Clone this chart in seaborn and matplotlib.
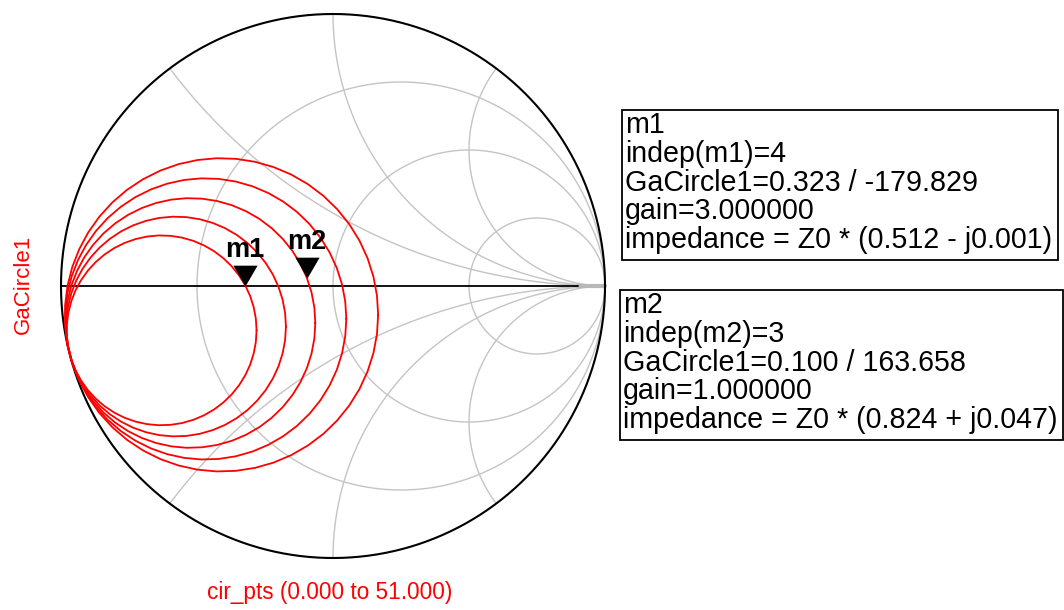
import numpy as np
import pandas as pd
import matplotlib
matplotlib.use("Agg")
import matplotlib.pyplot as plt
from matplotlib.patches import Rectangle
import seaborn as sns

# Available-gain circles (reflection-coefficient plane)
gains = [3, 2, 1, 0, -1]
center_re = [-0.630, -0.577, -0.524, -0.468, -0.410]
center_im = [-0.163, -0.149, -0.136, -0.121, -0.106]
radius = [0.349, 0.404, 0.459, 0.517, 0.576]
n_cir_pts = 51

# Smith chart grid values
r_grid = [1 / 3, 1.0, 3.0]
x_grid = [0.5, 1.0, 2.0]

# Markers
marker_names = ["m1", "m2"]
marker_index = [4, 3]
marker_mag = [0.323, 0.100]
marker_ang = [-179.829, 163.658]
marker_gain = [3.0, 1.0]
marker_z_re = [0.512, 0.824]
marker_z_im = [-0.001, 0.047]

W, H = 1064, 610
DPI = 100
sns.set_theme(style="white")
plt.rcParams["font.family"] = ["Liberation Sans", "DejaVu Sans"]

fig = plt.figure(figsize=(W / DPI, H / DPI), dpi=DPI)
fig.patch.set_facecolor("white")

# chart centre (333, 286) px, unit radius 272 px
cx, cy, R = 333, 286, 272
lim = 1.02
ax = fig.add_axes([(cx - lim * R) / W, (H - cy - lim * R) / H,
                   2 * lim * R / W, 2 * lim * R / H])
ax.set_xlim(-lim, lim)
ax.set_ylim(-lim, lim)
ax.set_aspect("equal")
ax.axis("off")

grid_col = "#c4c4c4"


def gamma(z):
    return (z - 1) / (z + 1)


# constant-resistance circles
t = np.linspace(-np.pi / 2 + 1e-4, np.pi / 2 - 1e-4, 600)
for r in r_grid:
    g = gamma(r + 1j * np.tan(t))
    g = np.concatenate([[1 + 0j], g, [1 + 0j]])
    ax.plot(g.real, g.imag, color=grid_col, lw=1.0, zorder=1)

# constant-reactance arcs
s = np.linspace(0, np.pi / 2 - 1e-4, 600)
for x in x_grid:
    for sign in (1, -1):
        g = gamma(np.tan(s) + 1j * sign * x)
        g = np.concatenate([g, [1 + 0j]])
        ax.plot(g.real, g.imag, color=grid_col, lw=1.0, zorder=1)

# real axis and outer boundary
ax.plot([-1, 0.90], [0, 0], color="black", lw=1.3, zorder=2)
ax.plot([0.90, 1.0], [0, 0], color="#b8b8b8", lw=3.0, zorder=1)
phi = np.linspace(0, 2 * np.pi, 800)
ax.plot(np.cos(phi), np.sin(phi), color="black", lw=1.5, zorder=3)

# gain circles, 51 points each
rows = []
k = np.arange(n_cir_pts + 1)
theta = 2 * np.pi * k / n_cir_pts
for gval, xr, xi, rad in zip(gains, center_re, center_im, radius):
    for kk, th in zip(k, theta):
        rows.append({"gain": gval, "pt": kk,
                     "re": xr + rad * np.cos(th),
                     "im": xi + rad * np.sin(th)})
df = pd.DataFrame(rows)
sns.lineplot(data=df, x="re", y="im", units="gain", estimator=None,
             sort=False, color="red", lw=1.3, ax=ax, zorder=4, legend=False)
ax.set_xlabel("")
ax.set_ylabel("")

# markers: downward triangle with its tip on the point
tri = [(-0.58, 1.0), (0.58, 1.0), (0.0, 0.0), (-0.58, 1.0)]
for name, mag, ang in zip(marker_names, marker_mag, marker_ang):
    p = mag * np.exp(1j * np.deg2rad(ang))
    ax.plot(p.real, p.imag, marker=tri, markersize=30, color="black",
            markeredgewidth=0, linestyle="none", zorder=6)
    ax.annotate(name, (p.real, p.imag), xytext=(0, 21),
                textcoords="offset points", ha="center", va="baseline",
                fontsize=19.5, fontweight="bold", color="black", zorder=7)

# axis captions
fig.text(23 / W, 1 - 284 / H, "GaCircle1", rotation=90, color="red",
         fontsize=16, ha="center", va="center")
fig.text(330 / W, 1 - 593 / H, "cir_pts (0.000 to 51.000)", color="red",
         fontsize=16.3, ha="center", va="center")


# marker readout boxes
def readout(x0, y0, x1, y1, lines):
    fig.add_artist(Rectangle((x0 / W, 1 - y1 / H), (x1 - x0) / W,
                             (y1 - y0) / H, transform=fig.transFigure,
                             fill=False, edgecolor="black", lw=1.3))
    for i, line in enumerate(lines):
        fig.text((x0 + 3) / W, 1 - (y0 + 15 + 28.8 * i) / H, line,
                 fontsize=20.6, ha="left", va="center", color="black")


def z_text(re, im):
    sign = "-" if im < 0 else "+"
    return f"impedance = Z0 * ({re:.3f} {sign} j{abs(im):.3f})"


boxes = [(622, 110, 1058, 260), (620, 290, 1063, 440)]
for (x0, y0, x1, y1), name, idx, mag, ang, gv, zr, zi in zip(
        boxes, marker_names, marker_index, marker_mag, marker_ang,
        marker_gain, marker_z_re, marker_z_im):
    readout(x0, y0, x1, y1, [
        name,
        f"indep({name})={idx}",
        f"GaCircle1={mag:.3f} / {ang:.3f}",
        f"gain={gv:.6f}",
        z_text(zr, zi),
    ])

fig.savefig("out.png", dpi=DPI, facecolor="white")
